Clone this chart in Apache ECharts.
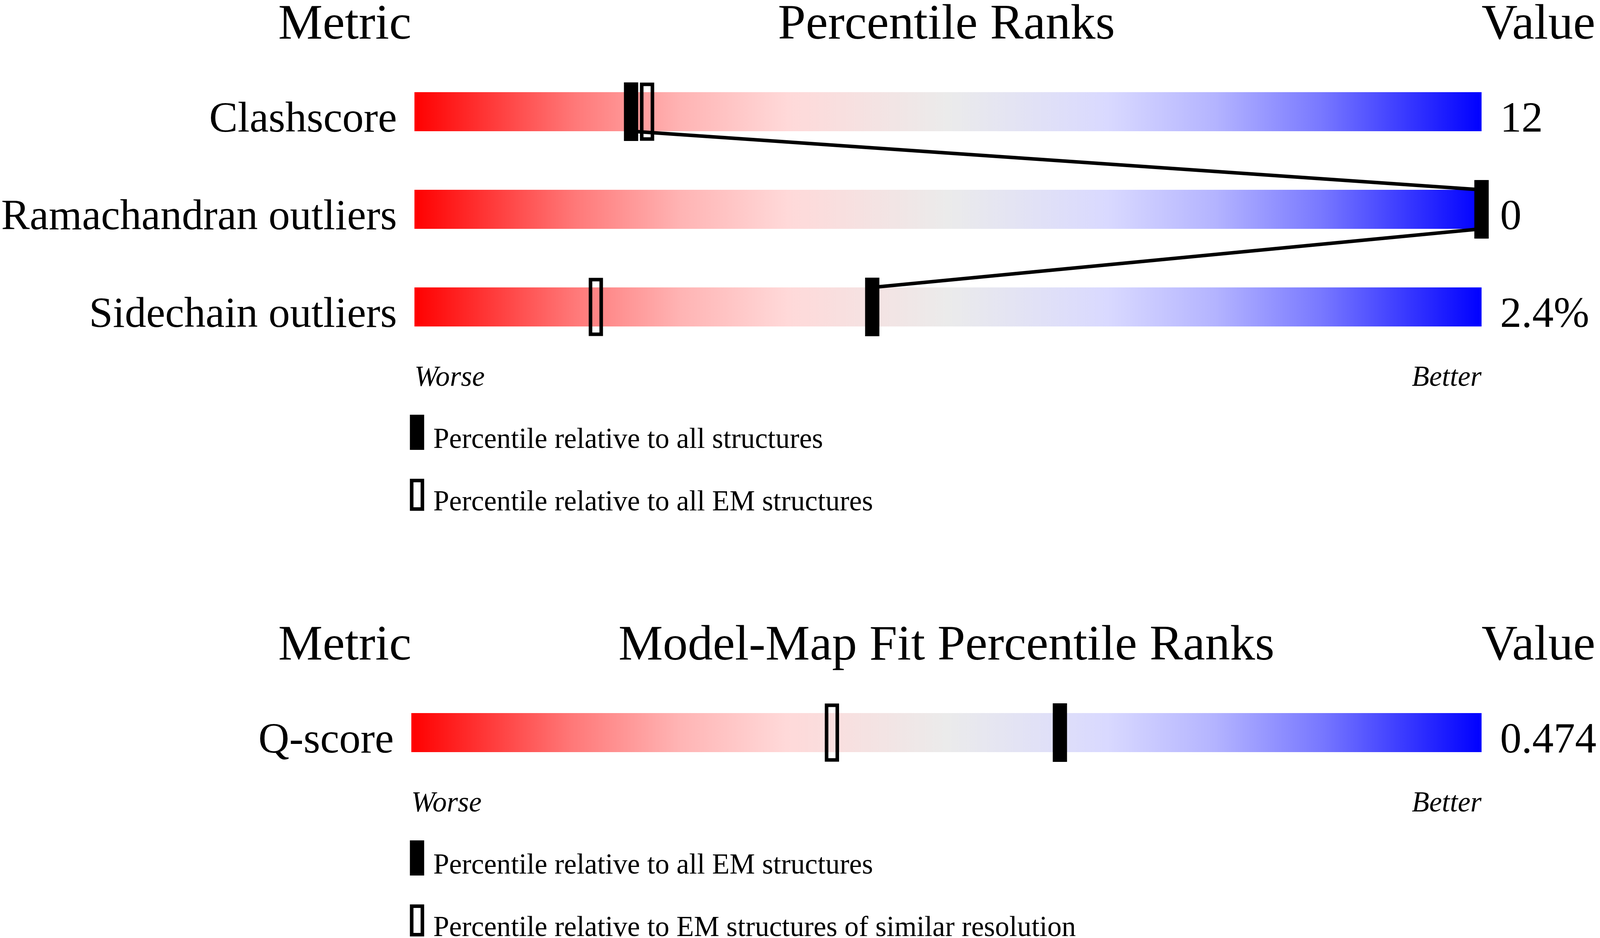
<!DOCTYPE html>
<html>
<head>
<meta charset="utf-8">
<title>Percentile ranks</title>
<script src="https://cdn.jsdelivr.net/npm/echarts@6/dist/echarts.min.js"></script>
<style>
  html, body { margin: 0; padding: 0; background: #fff; overflow: hidden; }
  #chart { width: 100vw; height: 100vh; }
</style>
</head>
<body>
<div id="chart"></div>
<script>
// --- geometry / validation panel ---
var metrics = ['Clashscore', 'Ramachandran outliers', 'Sidechain outliers'];
var metricValues = ['12', '0', '2.4%'];
var pctAll = [20.3, 100, 42.9];   // percentile vs all structures (filled)
var pctEM = [21.8, 100, 17];      // percentile vs all EM structures (open)

// --- model-map fit panel ---
var fitMetrics = ['Q-score'];
var fitValues = ['0.474'];
var fitPctEM = [60.6];            // vs all EM structures (filled)
var fitPctRes = [39.3];           // vs EM structures of similar resolution (open)

var scaleEnds = ['Worse', 'Better'];
var topNames = ['Percentile relative to all structures', 'Percentile relative to all EM structures'];
var bottomNames = ['Percentile relative to all EM structures', 'Percentile relative to EM structures of similar resolution'];

var FONT = 'Liberation Serif';
var OPEN_ICON = 'path://M0,0L40,0L40,90L0,90Z M10,10L10,80L30,80L30,10Z';

var dom = document.getElementById('chart');
var myChart = echarts.init(dom);
// layout was measured on a 4485x2402 picture; scale to the real page size
var sx = myChart.getWidth() / 4485;
var sy = myChart.getHeight() / 2402;
function P(v) { return v * sx; }   // horizontal sizes and fonts
function Q(v) { return v * sy; }   // vertical positions and sizes
var BAR_H = Q(100);
var MID = 0.25;  // distance from text middle to baseline, in em

function gradient() {
    return new echarts.graphic.LinearGradient(0, 0, 1, 0, [
        {offset: 0, color: '#ff0000'},
        {offset: 0.15, color: '#ff7878'},
        {offset: 0.25, color: '#ffb4b4'},
        {offset: 0.35, color: '#ffd9d9'},
        {offset: 0.5, color: '#ebebeb'},
        {offset: 0.65, color: '#d9d9ff'},
        {offset: 0.75, color: '#b4b4ff'},
        {offset: 0.85, color: '#7878ff'},
        {offset: 1, color: '#0000ff'}
    ]);
}

function xAxisFor(g) {
    var fs = P(80);
    return {
        gridIndex: g, type: 'value', min: 0, max: 100, interval: 100,
        axisLine: {show: false}, axisTick: {show: false}, splitLine: {show: false},
        axisLabel: {
            margin: Q(76) - fs / 2 - MID * fs, fontFamily: FONT, fontStyle: 'italic',
            fontSize: fs, lineHeight: fs, color: '#000',
            alignMinLabel: 'left', alignMaxLabel: 'right',
            formatter: function (v) { return v === 0 ? scaleEnds[0] : scaleEnds[1]; }
        }
    };
}

function yAxisFor(g, data, right) {
    var fs = P(120);
    // top-aligned at the band centre; the line height puts the baseline on the bar's bottom edge
    var lh = 2 * (BAR_H / 2 - MID * fs);
    return {
        gridIndex: g, type: 'category', data: data, inverse: true,
        position: right ? 'right' : 'left',
        axisLine: {show: false}, axisTick: {show: false}, splitLine: {show: false},
        axisLabel: {
            interval: 0, margin: P(right ? 52 : 49), fontFamily: FONT, fontSize: fs, color: '#000',
            verticalAlign: 'top', lineHeight: lh
        }
    };
}

function barSeries(g, rows) {
    return {
        type: 'bar', xAxisIndex: g, yAxisIndex: g * 2, barWidth: BAR_H, silent: true, z: 2,
        itemStyle: {color: gradient()},
        data: rows.map(function () { return 100; })
    };
}

function markerSeries(name, g, pct, filled) {
    return {
        type: 'custom', name: name, xAxisIndex: g, yAxisIndex: g * 2, z: filled ? 6 : 5, silent: true,
        itemStyle: {color: '#000'},
        data: pct.map(function (p, i) { return [p, i]; }),
        renderItem: function (params, api) {
            var pt = api.coord([api.value(0), api.value(1)]);
            if (filled) {
                return {type: 'rect', shape: {x: pt[0] - P(20), y: pt[1] - Q(75), width: P(40), height: Q(150)},
                        style: {fill: '#000'}};
            }
            return {type: 'rect', shape: {x: pt[0] - P(15), y: pt[1] - Q(70), width: P(30), height: Q(140)},
                    style: {fill: 'none', stroke: '#000', lineWidth: P(10)}};
        }
    };
}

// line joining the filled markers of consecutive rows
function connectorSeries(g, pct) {
    return {
        type: 'custom', xAxisIndex: g, yAxisIndex: g * 2, z: 4, silent: true,
        data: pct.slice(0, -1).map(function (p, i) { return [p, i, pct[i + 1], i + 1]; }),
        renderItem: function (params, api) {
            var a = api.coord([api.value(0), api.value(1)]);
            var b = api.coord([api.value(2), api.value(3)]);
            return {type: 'line', shape: {x1: a[0], y1: a[1] + BAR_H / 2, x2: b[0], y2: b[1] - BAR_H / 2},
                    style: {stroke: '#000', lineWidth: P(10)}};
        }
    };
}

function header(text, x, baseline, align) {
    var fs = P(140);
    return {
        type: 'text', x: P(x), y: Q(baseline) - MID * fs, silent: true,
        style: {text: text, font: fs + 'px "' + FONT + '"', fill: '#000',
                align: align, textAlign: align, verticalAlign: 'middle', textVerticalAlign: 'middle'}
    };
}

function legendFor(iconTop, names) {
    var ih = Q(90), lh = P(80);
    // rich text honours top padding when centred, so use it to drop the baseline near the icon's foot
    var pad = Math.max(0, 2 * (Q(84) - MID * lh - ih / 2));
    var boxH = lh + pad;
    var boxTop = ih / 2 - boxH / 2;
    var bbTop = Math.min(0, boxTop), bbBottom = Math.max(ih, boxTop + boxH);
    return {
        orient: 'vertical', left: P(1149), top: Q(iconTop) + bbTop, height: Q(400), padding: 0,
        itemWidth: P(40), itemHeight: ih, itemGap: Q(160) - (bbBottom - bbTop), selectedMode: false,
        itemStyle: {borderWidth: 0},
        formatter: '{t|{name}}',
        textStyle: {
            fontFamily: FONT, fontSize: lh, lineHeight: lh, color: '#000', padding: [pad, 0, 0, P(20)],
            rich: {t: {fontFamily: FONT, fontSize: lh, lineHeight: lh, color: '#000'}}
        },
        data: [
            {name: names[0], icon: 'rect', itemStyle: {color: '#000', borderWidth: 0}},
            {name: names[1], icon: OPEN_ICON, itemStyle: {color: '#000', borderWidth: 0}}
        ]
    };
}

var option = {
    backgroundColor: '#fff',
    animation: false,
    grid: [
        {left: P(1153), top: Q(161), width: P(3000), height: Q(750)},
        {left: P(1153), top: Q(1751), width: P(3000), height: Q(250)}
    ],
    xAxis: [xAxisFor(0), xAxisFor(1)],
    yAxis: [
        yAxisFor(0, metrics, false), yAxisFor(0, metricValues, true),
        yAxisFor(1, fitMetrics, false), yAxisFor(1, fitValues, true)
    ],
    legend: [legendFor(1062, topNames), legendFor(2152, bottomNames)],
    graphic: [
        header('Metric', 1153, 97, 'right'),
        header('Percentile Ranks', 2653, 97, 'center'),
        header('Value', 4153, 97, 'left'),
        header('Metric', 1153, 1687, 'right'),
        header('Model-Map Fit Percentile Ranks', 2653, 1687, 'center'),
        header('Value', 4153, 1687, 'left')
    ],
    series: [
        barSeries(0, metrics),
        connectorSeries(0, pctAll),
        markerSeries(topNames[1], 0, pctEM, false),
        markerSeries(topNames[0], 0, pctAll, true),
        barSeries(1, fitMetrics),
        markerSeries(bottomNames[1], 1, fitPctRes, false),
        markerSeries(bottomNames[0], 1, fitPctEM, true)
    ]
};

myChart.setOption(option);
</script>
</body>
</html>
